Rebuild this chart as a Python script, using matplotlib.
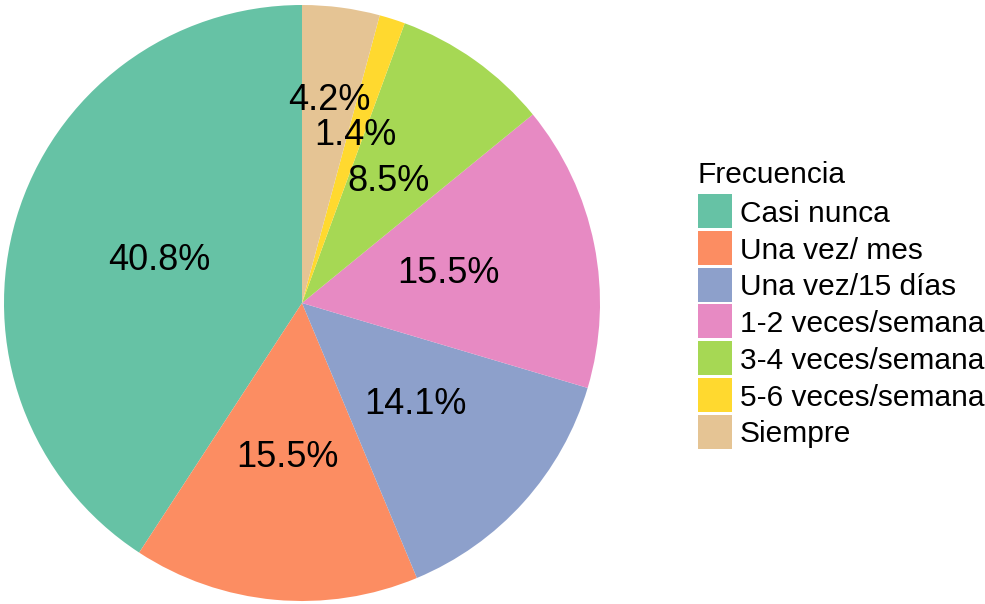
import numpy as np
import matplotlib
matplotlib.use("Agg")
from matplotlib import pyplot as plt
from matplotlib.patches import Rectangle

# frequency categories and their shares (percent)
categories = ["Casi nunca", "Una vez/ mes", "Una vez/15 días", "1-2 veces/semana",
              "3-4 veces/semana", "5-6 veces/semana", "Siempre"]
shares = [40.8, 15.5, 14.1, 15.5, 8.5, 1.4, 4.2]
share_labels = ["40.8%", "15.5%", "14.1%", "15.5%", "8.5%", "1.4%", "4.2%"]

colors = ["#66C2A5", "#FC8D62", "#8DA0CB", "#E78AC3", "#A6D854", "#FFD92F", "#E5C494"]
# radial position of each label (fraction of the radius)
label_radius = [0.5, 0.52, 0.51, 0.5, 0.5, 0.59, 0.685]

plt.rcParams["font.family"] = ["Liberation Sans", "DejaVu Sans"]

W, H = 985, 604
fig = plt.figure(figsize=(W / 100, H / 100), dpi=100)

cx, cy, r = 302, 604 - 303, 298
ax = fig.add_axes([(cx - r) / W, (cy - r) / H, 2 * r / W, 2 * r / H])

wedges, _ = ax.pie(shares, colors=colors, startangle=90, counterclock=True,
                   radius=1, wedgeprops=dict(linewidth=0))

# labels at the middle angle of each slice
for w, lab, rr in zip(wedges, share_labels, label_radius):
    mid = np.deg2rad((w.theta1 + w.theta2) / 2)
    ax.text(rr * np.cos(mid), rr * np.sin(mid), lab, ha="center", va="center",
            fontsize=26, color="black")

ax.set_xlim(-1, 1)
ax.set_ylim(-1, 1)
ax.axis("off")

# legend drawn by hand, ggplot style (pixel positions from the top-left)
def fx(x):
    return x / W

def fy(y):
    return 1 - y / H

leg_x, key_top, key_size, pitch, fs = 698, 194, 34, 36.8, 21.5
fig.text(fx(leg_x), fy(183), "Frecuencia", fontsize=fs, ha="left", va="baseline")
for i, (cat, col) in enumerate(zip(categories, colors)):
    top = key_top + i * pitch
    fig.add_artist(Rectangle((fx(leg_x), fy(top + key_size)), key_size / W, key_size / H,
                             transform=fig.transFigure, facecolor=col, edgecolor="none"))
    fig.text(fx(740), fy(top + key_size / 2 + 10.7), cat, fontsize=fs,
             ha="left", va="baseline")

fig.savefig("out.png", dpi=100)
